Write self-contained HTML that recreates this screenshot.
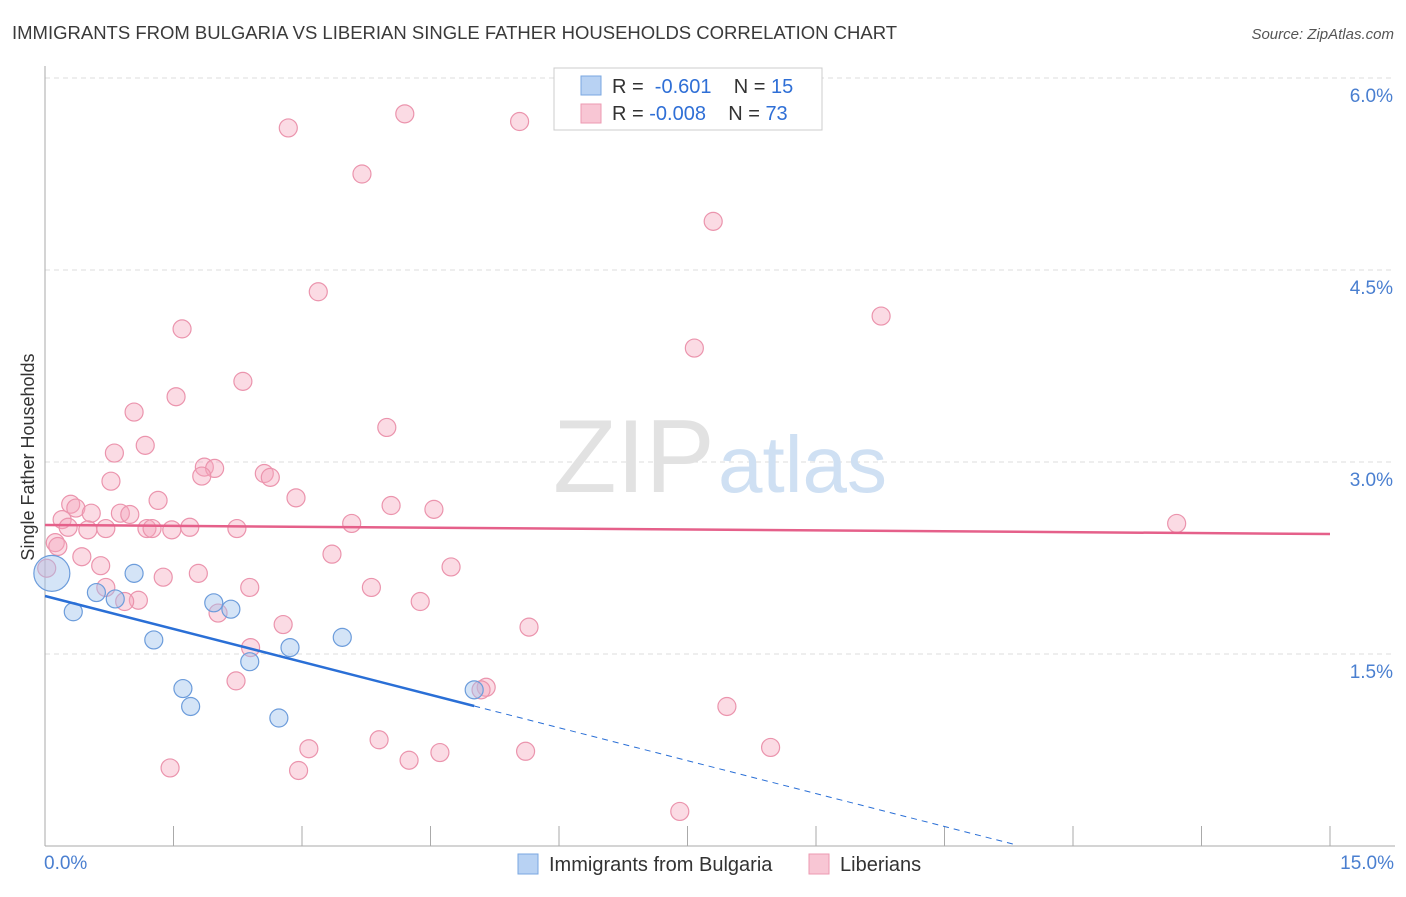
<!DOCTYPE html>
<html><head><meta charset="utf-8"><style>
body{margin:0;background:#fff;font-family:"Liberation Sans",sans-serif}
svg text{font-family:"Liberation Sans",sans-serif}
</style></head><body>
<svg id="chart" width="1406" height="892">
<text x="12" y="39" font-size="18.5" fill="#3a3a3a">IMMIGRANTS FROM BULGARIA VS LIBERIAN SINGLE FATHER HOUSEHOLDS CORRELATION CHART</text>
<text x="1394" y="39" font-size="15" fill="#555" font-style="italic" text-anchor="end">Source: ZipAtlas.com</text>
<g id="grid"></g>
<text x="553" y="492" font-size="104" fill="#e2e2e2" font-family="Liberation Serif">ZIP</text>
<text x="718" y="492" font-size="80" fill="#cfe0f3">atlas</text>
<line x1="45" y1="66" x2="45" y2="846" stroke="#aaa"/>
<line x1="45" y1="846" x2="1395" y2="846" stroke="#aaa"/>
<g id="xticks"></g>
<g id="ylabels"></g>
<text x="44" y="869" font-size="19" fill="#4a7fd0">0.0%</text>
<text x="1394" y="869" font-size="19" fill="#4a7fd0" text-anchor="end">15.0%</text>
<text transform="translate(34,457) rotate(-90)" font-size="18" fill="#333" text-anchor="middle">Single Father Households</text>
<g id="pink"></g>
<g id="blue"></g>
<g id="lines"></g>
<g>
<rect x="554" y="68" width="268" height="62" fill="#fff" stroke="#ccc"/>
<rect x="581" y="76" width="20" height="19" fill="#b8d2f3" stroke="#7aa7e0"/>
<rect x="581" y="104" width="20" height="19" fill="#f8c6d4" stroke="#ec9ab2"/>
<text x="612" y="93" font-size="20" fill="#333">R = <tspan fill="#2f6fd6">&#160;-0.601</tspan>&#160;&#160;&#160; N = <tspan fill="#2f6fd6"> 15</tspan></text>
<text x="612" y="120" font-size="20" fill="#333">R = <tspan fill="#2f6fd6">-0.008</tspan>&#160;&#160;&#160; N = <tspan fill="#2f6fd6"> 73</tspan></text>
</g>
<g>
<rect x="518" y="854" width="20" height="20" fill="#b8d2f3" stroke="#7aa7e0"/>
<text x="549" y="871" font-size="20" fill="#333">Immigrants from Bulgaria</text>
<rect x="809" y="854" width="20" height="20" fill="#f8c6d4" stroke="#ec9ab2"/>
<text x="840" y="871" font-size="20" fill="#333">Liberians</text>
</g>
</svg>
<script>
const yTicks=[1.5,3.0,4.5,6.0];
const xTicks=[1.5,3,4.5,6,7.5,9,10.5,12,13.5,15];
const blueX=[0.08,0.33,0.60,0.82,1.04,1.27,1.61,1.70,1.97,2.17,2.39,2.73,2.86,3.47,5.01];
const blueY=[2.13,1.83,1.98,1.93,2.13,1.61,1.23,1.09,1.90,1.85,1.44,1.00,1.55,1.63,1.22];
const blueSize=[18,9,9,9,9,9,9,9,9,9,9,9,9,9,9];
const pinkX=[2.84,4.20,5.54,3.70,7.80,3.19,9.76,1.60,7.58,2.31,1.53,1.04,3.99,1.17,0.81,1.86,1.98,1.83,2.56,2.63,0.77,1.32,2.93,4.04,4.54,0.30,0.36,0.54,0.20,0.88,0.99,0.27,0.50,0.71,1.19,1.25,1.48,1.69,2.24,3.58,13.21,0.12,0.15,0.43,3.35,4.74,0.65,1.38,1.79,2.39,3.81,0.71,1.09,0.93,4.38,2.02,5.65,2.78,2.40,2.23,5.15,5.09,7.96,3.08,3.90,8.47,4.61,5.61,1.46,2.96,4.25,7.41,0.02];
const pinkY=[5.61,5.72,5.66,5.25,4.88,4.33,4.14,4.04,3.89,3.63,3.51,3.39,3.27,3.13,3.07,2.96,2.95,2.89,2.91,2.88,2.85,2.70,2.72,2.66,2.63,2.67,2.64,2.60,2.55,2.60,2.59,2.49,2.47,2.48,2.48,2.48,2.47,2.49,2.48,2.52,2.52,2.37,2.34,2.26,2.28,2.18,2.19,2.10,2.13,2.02,2.02,2.02,1.92,1.91,1.91,1.82,1.71,1.73,1.55,1.29,1.24,1.22,1.09,0.76,0.83,0.77,0.73,0.74,0.61,0.59,0.67,0.27,2.17];
const blueTrend=[1.953,-0.1715];
const pinkTrend=[2.508,-0.0047];
const blueSolidEnd=5.01, blueDashEnd=11.3;
const NS='http://www.w3.org/2000/svg';
const sx=v=>45+v/15*1285, sy=v=>846-v/1.5*192;
function mk(p,t,a){const e=document.createElementNS(NS,t);for(const k in a)e.setAttribute(k,a[k]);document.getElementById(p).appendChild(e);return e;}
yTicks.forEach(t=>{
 const l=mk('grid','line',{x1:45,x2:1395,y1:sy(t),y2:sy(t),stroke:'#ddd','stroke-dasharray':'5,4'});
 
 
 const tx=mk('ylabels','text',{x:1393,y:sy(t)+24,'font-size':19,fill:'#4a7fd0','text-anchor':'end'});
 tx.textContent=t.toFixed(1)+'%';
 
 
});
xTicks.forEach(t=>{
 const l=mk('xticks','line',{x1:sx(t),x2:sx(t),y1:826,y2:846,stroke:'#aaa'});
 
 
});
pinkX.forEach((x,i)=>{
 const c=mk('pink','circle',{cx:sx(x),cy:sy(pinkY[i]),r:9,fill:'rgba(244,164,188,0.4)',stroke:'#eb94ad','stroke-width':1.2});
 
 
});
blueX.forEach((x,i)=>{
 const c=mk('blue','circle',{cx:sx(x),cy:sy(blueY[i]),r:blueSize[i],fill:'rgba(160,196,238,0.45)',stroke:'#6c9cdb','stroke-width':1.2});
 
 
});
const f=(tr,x)=>tr[0]+tr[1]*x;
let a=mk('lines','line',{x1:sx(0),y1:sy(f(pinkTrend,0)),x2:sx(15),y2:sy(f(pinkTrend,15)),stroke:'#e5608a','stroke-width':2.5});


a=mk('lines','line',{x1:sx(0),y1:sy(f(blueTrend,0)),x2:sx(blueSolidEnd),y2:sy(f(blueTrend,blueSolidEnd)),stroke:'#2a6fd6','stroke-width':2.5});


a=mk('lines','line',{x1:sx(blueSolidEnd),y1:sy(f(blueTrend,blueSolidEnd)),x2:sx(blueDashEnd),y2:sy(f(blueTrend,blueDashEnd)),stroke:'#2a6fd6','stroke-width':1,'stroke-dasharray':'6,5'});


</script>
</body></html>
